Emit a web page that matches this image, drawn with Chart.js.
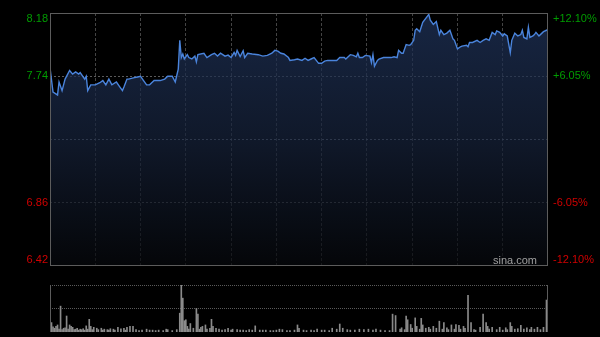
<!DOCTYPE html>
<html><head><meta charset="utf-8">
<script src="https://cdn.jsdelivr.net/npm/chart.js@4/dist/chart.umd.min.js"></script>
<style>
html,body{margin:0;padding:0;background:#000;overflow:hidden;}
#wrap{position:relative;width:600px;height:337px;background:#000;}
canvas{position:absolute;left:0;display:block;}
</style></head><body>
<div id="wrap">
<canvas id="main" width="600" height="280" style="top:0"></canvas>
<canvas id="vol" width="600" height="57" style="top:280px"></canvas>
</div>
<script>
// ---- data (minutes since open, HK session 330 trading minutes) ----
const prevClose = 7.30;
const priceTicks = [6.42, 6.86, 7.30, 7.74, 8.18];
const leftLabels = ["6.42", "6.86", "", "7.74", "8.18"];
const pctTicks = [-0.121, -0.0605, 0.0605, 0.121];
const pctLabels = ["-12.10%", "-6.05%", "+6.05%", "+12.10%"];
const priceMinutes = [0,2,5,6,8,9,10,13,15,17,19,20,23,24,25,27,30,33,35,37,39,41,44,46,48,49,51,52,56,58,60,62,64,66,69,73,76,78,81,83,84,85,86,87,88,89,91,92,94,96,97,98,102,104,107,109,111,113,116,118,120,122,123,124,126,128,129,131,134,138,141,144,147,149,151,153,155,158,159,162,164,167,169,171,173,175,178,180,182,184,190,192,195,196,199,201,203,204,205,207,209,212,213,214,215,217,218,221,226,228,230,231,233,234,236,238,239,241,242,243,245,247,251,252,254,255,256,258,259,261,263,265,266,267,268,270,272,273,276,277,278,280,283,285,287,289,291,293,295,296,298,300,301,303,305,306,308,310,312,313,314,316,317,318,320,321,322,324,326,327,329,330];
const prices = [7.80,7.63,7.61,7.70,7.64,7.68,7.72,7.78,7.755,7.77,7.755,7.765,7.72,7.74,7.64,7.68,7.68,7.695,7.71,7.68,7.72,7.68,7.70,7.67,7.64,7.665,7.72,7.72,7.73,7.735,7.74,7.71,7.68,7.68,7.71,7.71,7.72,7.74,7.74,7.70,7.745,7.79,7.99,7.87,7.895,7.86,7.89,7.87,7.86,7.88,7.84,7.89,7.90,7.87,7.89,7.90,7.88,7.90,7.88,7.887,7.87,7.905,7.885,7.92,7.877,7.917,7.87,7.90,7.895,7.89,7.88,7.885,7.90,7.92,7.915,7.90,7.895,7.87,7.85,7.855,7.86,7.85,7.865,7.85,7.86,7.87,7.83,7.83,7.845,7.85,7.85,7.87,7.87,7.86,7.89,7.885,7.875,7.90,7.87,7.87,7.885,7.88,7.835,7.89,7.81,7.85,7.86,7.87,7.87,7.875,7.87,7.92,7.90,7.90,7.96,7.955,7.96,7.99,8.06,8.07,8.05,8.115,8.17,8.13,8.10,8.11,8.12,8.03,8.06,8.03,8.04,8.06,8.03,8.00,7.99,7.93,7.945,7.95,7.955,7.945,7.975,7.975,7.99,7.975,7.99,8.00,7.99,8.045,8.03,8.055,8.045,8.02,8.035,8.02,7.905,7.99,8.04,8.02,8.03,8.06,8.01,8.00,8.08,8.01,8.02,8.03,8.045,8.02,8.04,8.05,8.06,8.065];
const volMinutes = [0,1,2,3,4,5,6,7,8,9,10,11,12,13,14,15,16,17,18,19,20,21,22,23,24,25,26,27,28,29,31,32,34,35,36,38,39,40,42,43,45,47,49,50,51,53,55,57,59,61,64,66,68,70,72,75,77,78,81,84,86,87,88,89,90,91,92,93,95,97,98,99,100,101,103,104,106,107,108,110,112,114,116,118,120,121,124,126,128,130,132,134,136,139,141,143,146,148,150,152,154,157,159,162,164,165,168,170,173,175,177,180,182,185,187,190,192,194,197,199,202,205,208,211,214,216,219,222,225,227,229,232,233,235,236,237,239,240,242,243,245,246,247,249,251,252,254,256,258,260,261,263,264,266,268,269,271,272,274,275,277,279,281,282,285,287,289,290,291,293,296,298,300,302,303,305,306,308,310,312,314,316,318,319,321,323,325,327,329];
const volValues = [25,20,11,8,12,15,6,55,5,8,9,34,6,15,12,10,5,6,8,4,6,5,7,4,13,6,27,12,5,10,8,5,8,4,6,5,4,7,6,4,10,7,8,4,10,12,12,5,3,4,6,4,4,3,4,3,6,5,3,5,40,100,72,24,26,12,6,18,8,50,38,6,10,12,15,6,8,27,12,8,6,4,5,8,4,6,5,4,4,3,5,4,13,4,4,4,3,3,4,6,5,3,3,4,15,8,4,3,4,3,6,4,4,3,8,6,17,8,5,4,4,6,5,6,4,6,4,3,3,38,35,6,9,5,34,26,16,8,30,12,6,29,15,8,10,6,12,8,23,6,20,9,5,15,6,16,14,6,12,8,78,20,5,4,10,38,20,12,6,10,5,10,4,9,5,20,12,6,7,14,6,9,5,10,6,10,5,10,68];

// ---- styles ----
const frameColor = '#5c5c5c';
const green = '#009c00';
const red = '#d00000';

const frame = {
  id: 'frame',
  afterDraw(chart) {
    const {ctx, chartArea: a} = chart;
    ctx.save();
    ctx.strokeStyle = frameColor;
    ctx.lineWidth = 1;
    if (chart.canvas.id === 'main') {
      ctx.strokeRect(a.left + 0.5, a.top + 0.5, a.right - a.left - 1, a.bottom - a.top - 1);
      const y = chart.scales.y;
      ctx.font = '11px "Liberation Sans", Arial, sans-serif';
      ctx.textBaseline = 'middle';
      const clamp = p => Math.max(a.top + 6, Math.min(a.bottom - 6, p));
      ctx.textAlign = 'right';
      priceTicks.forEach((v, i) => {
        if (!leftLabels[i]) return;
        ctx.fillStyle = v > prevClose ? green : red;
        ctx.fillText(leftLabels[i], 48, clamp(y.getPixelForValue(v)));
      });
      ctx.textAlign = 'left';
      pctTicks.forEach((p, i) => {
        ctx.fillStyle = p > 0 ? green : red;
        ctx.fillText(pctLabels[i], 553, clamp(y.getPixelForValue(prevClose * (1 + p))));
      });
      ctx.textAlign = 'right';
      ctx.fillStyle = '#a0a0a0';
      ctx.fillText('sina.com', 537, a.bottom - 5);
    } else {
      ctx.beginPath();
      ctx.moveTo(a.left + 0.5, a.top); ctx.lineTo(a.left + 0.5, a.bottom);
      ctx.moveTo(a.right - 0.5, a.top); ctx.lineTo(a.right - 0.5, a.bottom);
      ctx.stroke();
    }
    ctx.restore();
  }
};

Chart.defaults.animation = false;

new Chart(document.getElementById('main'), {
  type: 'line',
  data: {
    datasets: [{
      data: priceMinutes.map((m, i) => ({x: m, y: prices[i]})),
      borderColor: '#4a84dc',
      borderWidth: 1.4,
      pointRadius: 0,
      tension: 0,
      fill: 'start',
      backgroundColor: (ctx) => {
        const a = ctx.chart.chartArea;
        if (!a) return 'rgba(20,35,60,0.7)';
        const g = ctx.chart.ctx.createLinearGradient(0, a.top, 0, a.bottom);
        g.addColorStop(0, 'rgba(32,52,92,0.72)');
        g.addColorStop(0.5, 'rgba(22,34,58,0.72)');
        g.addColorStop(1, 'rgba(6,8,12,0.72)');
        return g;
      }
    }]
  },
  options: {
    responsive: false,
    layout: {padding: {left: 50, top: 13, right: 52, bottom: 14}},
    plugins: {legend: {display: false}, tooltip: {enabled: false}},
    scales: {
      x: {
        type: 'linear', min: 0, max: 330,
        ticks: {display: false, stepSize: 30},
        grid: {
          drawTicks: false,
          color: (c) => (c.tick && (c.tick.value === 0 || c.tick.value === 330)) ? 'rgba(0,0,0,0)' : '#444',
        },
        border: {display: false, dash: [3, 2]}
      },
      y: {
        type: 'linear', min: 6.42, max: 8.18,
        afterBuildTicks: (s) => { s.ticks = priceTicks.map(v => ({value: v})); },
        ticks: {display: false},
        grid: {
          drawTicks: false,
          color: (c) => {
            const v = c.tick ? c.tick.value : 0;
            if (v === 6.42 || v === 8.18) return 'rgba(0,0,0,0)';
            return v === 7.30 ? '#6a6f78' : '#5a5a5a';
          }
        },
        border: {display: false, dash: [2, 2]}
      }
    }
  },
  plugins: [frame]
});

new Chart(document.getElementById('vol'), {
  type: 'bar',
  data: {
    datasets: [{
      data: volMinutes.map((m, i) => ({x: m, y: volValues[i]})),
      backgroundColor: '#8a8a8a',
      barThickness: 1,
      borderWidth: 0
    }]
  },
  options: {
    responsive: false,
    layout: {padding: {left: 50, top: 5, right: 52, bottom: 5}},
    plugins: {legend: {display: false}, tooltip: {enabled: false}},
    scales: {
      x: {
        type: 'linear', min: 0, max: 330, offset: false,
        display: false
      },
      y: {
        min: 0, max: 100,
        afterBuildTicks: (s) => { s.ticks = [{value: 50}, {value: 100}]; },
        ticks: {display: false},
        grid: {drawTicks: false, color: '#5a5a5a'},
        border: {display: false, dash: [1, 1]}
      }
    }
  },
  plugins: [frame]
});
</script>
</body></html>
